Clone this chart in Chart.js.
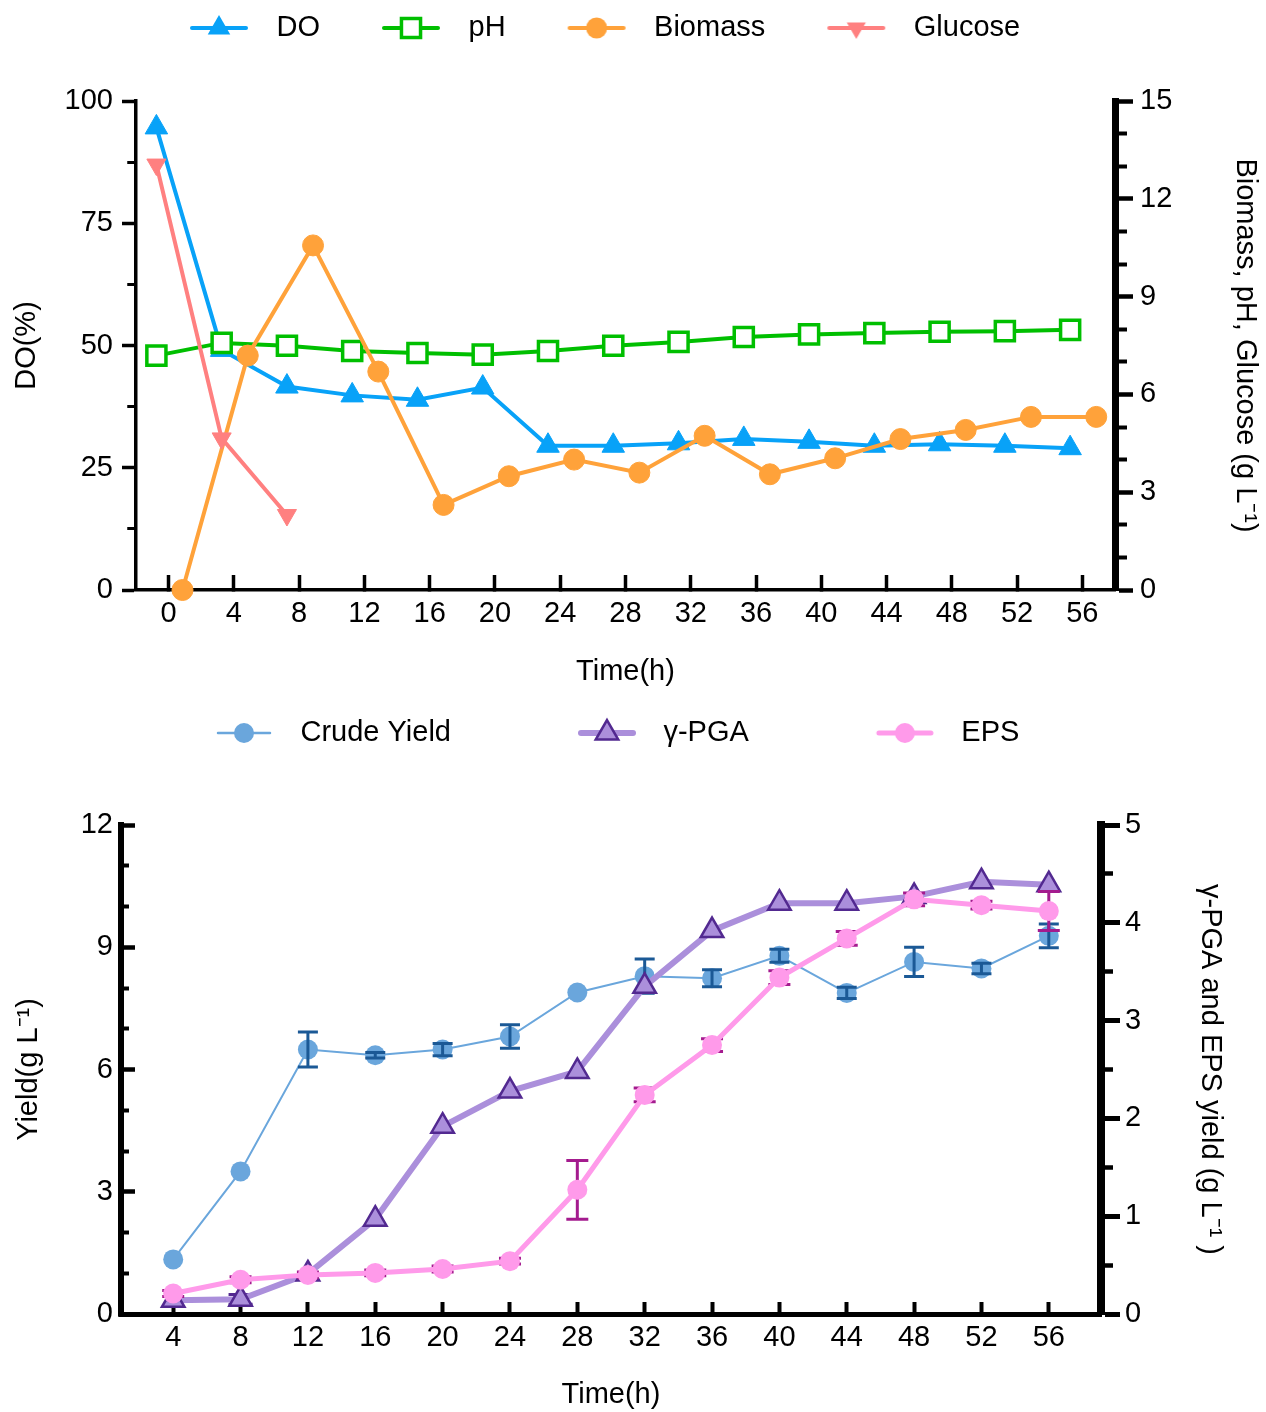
<!DOCTYPE html>
<html>
<head>
<meta charset="utf-8">
<title>Fermentation time course</title>
<script src="https://cdn.jsdelivr.net/npm/chart.js@4.4.1/dist/chart.umd.min.js"></script>
<style>
  html, body { margin: 0; padding: 0; background: #fff; }
  #wrap { position: relative; width: 1266px; height: 1412px; overflow: hidden; }
  canvas { position: absolute; left: 0; }
  #process-chart { top: 0; }
  #yield-chart { top: 700px; }
</style>
</head>
<body>
<div id="wrap">
  <canvas id="process-chart" width="1266" height="700"></canvas>
  <canvas id="yield-chart" width="1266" height="712"></canvas>
</div>
<script>
'use strict';

// ---- top panel: DO, pH, biomass, glucose ----
const topTimeTicks = [0, 4, 8, 12, 16, 20, 24, 28, 32, 36, 40, 44, 48, 52, 56];
const doTicks = [0, 12.5, 25, 37.5, 50, 62.5, 75, 87.5, 100];
const doTickLabels = [0, 25, 50, 75, 100];
const bioTicks = [0, 1, 2, 3, 4, 5, 6, 7, 8, 9, 10, 11, 12, 13, 14, 15];
const bioTickLabels = [0, 3, 6, 9, 12, 15];

const doTime = [-0.75, 3.25, 7.25, 11.25, 15.25, 19.25, 23.25, 27.25, 31.25, 35.25, 39.25, 43.25, 47.25, 51.25, 55.25];
const doValues = [94.6, 49.1, 41.6, 39.8, 38.9, 41.4, 29.5, 29.5, 30.0, 30.9, 30.3, 29.5, 29.8, 29.5, 29.0];
const phTime = [-0.75, 3.25, 7.25, 11.25, 15.25, 19.25, 23.25, 27.25, 31.25, 35.25, 39.25, 43.25, 47.25, 51.25, 55.25];
const phValues = [7.19, 7.58, 7.49, 7.33, 7.27, 7.22, 7.33, 7.49, 7.61, 7.76, 7.84, 7.88, 7.92, 7.94, 7.98];
const biomassTime = [0.85, 4.85, 8.85, 12.85, 16.85, 20.85, 24.85, 28.85, 32.85, 36.85, 40.85, 44.85, 48.85, 52.85, 56.85];
const biomassValues = [0, 7.19, 10.57, 6.70, 2.61, 3.49, 4.00, 3.60, 4.73, 3.55, 4.04, 4.63, 4.91, 5.31, 5.31];
const glucoseTime = [-0.75, 3.25, 7.25];
const glucoseValues = [13.05, 4.65, 2.30];

// ---- bottom panel: crude yield, γ-PGA, EPS ----
const yieldTimeTicks = [4, 8, 12, 16, 20, 24, 28, 32, 36, 40, 44, 48, 52, 56];
const yieldTicks = [0, 1, 2, 3, 4, 5, 6, 7, 8, 9, 10, 11, 12];
const yieldTickLabels = [0, 3, 6, 9, 12];
const pgaTicks = [0, 0.5, 1, 1.5, 2, 2.5, 3, 3.5, 4, 4.5, 5];
const pgaTickLabels = [0, 1, 2, 3, 4, 5];

const sampleTime = [4, 8, 12, 16, 20, 24, 28, 32, 36, 40, 44, 48, 52, 56];
const crudeValues = [1.34, 3.50, 6.49, 6.35, 6.49, 6.81, 7.89, 8.29, 8.24, 8.79, 7.88, 8.64, 8.48, 9.28];
const crudeErrors = [0, 0, 0.43, 0.07, 0.15, 0.29, 0, 0.42, 0.21, 0.16, 0.14, 0.36, 0.13, 0.29];
const pgaValues = [0.14, 0.15, 0.41, 0.97, 1.92, 2.28, 2.48, 3.35, 3.92, 4.20, 4.20, 4.27, 4.42, 4.39];
const pgaErrors = [0, 0.05, 0, 0, 0, 0, 0, 0, 0, 0, 0, 0, 0, 0];
const epsValues = [0.21, 0.35, 0.40, 0.42, 0.46, 0.54, 1.27, 2.24, 2.75, 3.44, 3.84, 4.24, 4.18, 4.12];
const epsErrors = [0.03, 0.03, 0.03, 0.03, 0.03, 0.03, 0.30, 0.07, 0.065, 0.07, 0.07, 0.065, 0.04, 0.20];

const FONT = "'Liberation Sans', Arial, Helvetica, sans-serif";
Chart.defaults.font.family = FONT;
Chart.defaults.font.size = 29;
Chart.defaults.color = '#000';

const C = {
    do: '#08a2f8', ph: '#00bf00', bio: '#ffa23a', glu: '#ff8080',
    crude: '#6aa6dc', crudeErr: '#1b5996',
    pga: '#ab8fdb', pgaEdge: '#522990',
    eps: '#ff9aea', epsErr: '#a41b8e'
};

function points(xs, ys) {
    return xs.map((x, i) => ({x: x, y: ys[i]}));
}

// same shapes as chart.js uses for its points
function drawMarker(g, shape, x, y, r, fill, stroke, bw) {
    g.beginPath();
    if (shape === 'circle') {
        g.arc(x, y, r, 0, Math.PI * 2);
    } else if (shape === 'rect') {
        const s = r * Math.SQRT1_2;
        g.rect(x - s, y - s, 2 * s, 2 * s);
    } else {
        const dir = shape === 'triangle' ? 1 : -1;
        for (let k = 0; k < 3; k++) {
            const a = k * 2 * Math.PI / 3;
            const px = x + Math.sin(a) * r;
            const py = y - dir * Math.cos(a) * r;
            if (k) g.lineTo(px, py); else g.moveTo(px, py);
        }
        g.closePath();
    }
    g.fillStyle = fill;
    g.fill();
    if (bw) {
        g.lineWidth = bw;
        g.strokeStyle = stroke;
        g.stroke();
    }
}

function legendIcon(width, lead, lineLen, lineColor, lineWidth, m) {
    const c = document.createElement('canvas');
    c.width = width;
    c.height = 34;
    const g = c.getContext('2d');
    g.strokeStyle = lineColor;
    g.lineWidth = lineWidth;
    g.lineCap = 'round';
    g.beginPath();
    g.moveTo(lead, 17);
    g.lineTo(lead + lineLen, 17);
    g.stroke();
    drawMarker(g, m.shape, lead + lineLen / 2, 17, m.r, m.fill, m.stroke, m.bw);
    return c;
}

// moves the legend box after layout, so the plot area keeps its place
const legendShift = {
    id: 'legendShift',
    afterLayout(chart, args, opts) {
        const lg = chart.legend;
        if (!lg) return;
        lg.left += opts.dx; lg.right += opts.dx;
        lg.top += opts.dy; lg.bottom += opts.dy;
    }
};

function drawErrors(chart, index, onTop) {
    const ds = chart.data.datasets[index];
    if (!ds.errors || Boolean(ds.errorsOnTop) !== onTop) return;
    const meta = chart.getDatasetMeta(index);
    const yScale = chart.scales[meta.yAxisID];
    const ctx = chart.ctx;
    ctx.save();
    ctx.strokeStyle = ds.errorColor;
    ctx.lineWidth = 3;
    meta.data.forEach((pt, i) => {
        const e = ds.errors[i];
        if (!e) return;
        const v = ds.data[i].y;
        const top = yScale.getPixelForValue(v + e);
        const bot = yScale.getPixelForValue(v - e);
        const cap = ds.errorCap;
        ctx.beginPath();
        ctx.moveTo(pt.x, top); ctx.lineTo(pt.x, bot);
        ctx.moveTo(pt.x - cap, top); ctx.lineTo(pt.x + cap, top);
        ctx.moveTo(pt.x - cap, bot); ctx.lineTo(pt.x + cap, bot);
        ctx.stroke();
    });
    ctx.restore();
}

const errorBars = {
    id: 'errorBars',
    beforeDatasetDraw(chart, args) { drawErrors(chart, args.index, false); },
    afterDatasetDraw(chart, args) { drawErrors(chart, args.index, true); }
};

function axis(o) {
    const major = (c) => !c.tick || o.labels.includes(c.tick.value);
    return {
        type: 'linear',
        position: o.position,
        min: o.min,
        max: o.max,
        afterBuildTicks: (s) => { s.ticks = o.ticks.map((v) => ({value: v})); },
        afterFit: (s) => { if (s.isHorizontal()) s.height = o.size; else s.width = o.size; },
        border: {display: true, color: '#000', width: o.borderWidth},
        grid: {
            drawOnChartArea: false,
            drawTicks: true,
            tickLength: o.tickLength,
            tickColor: '#000',
            tickWidth: (c) => major(c) ? o.tickWidth : o.tickWidth - 0.5,
            tickBorderDash: (c) => major(c) ? [] : [o.minorLength, 300],
            tickBorderDashOffset: (c) => major(c) ? 0 : (o.minorOffset || 0)
        },
        ticks: {
            autoSkip: false,
            maxRotation: 0,
            padding: o.tickPadding,
            color: '#000',
            callback: (v) => o.labels.includes(v) ? String(v) : ''
        },
        title: {display: true, text: o.title, color: '#000', padding: o.titlePadding}
    };
}

function legendOptions(icons, boxWidth) {
    return {
        display: true,
        position: 'top',
        align: 'start',
        labels: {
            usePointStyle: true,
            pointStyleWidth: boxWidth,
            padding: 20,
            font: {size: 29},
            generateLabels: (chart) => chart.data.datasets.map((ds, i) => ({
                text: ds.label,
                pointStyle: icons[i],
                rotation: 0,
                datasetIndex: i,
                hidden: false,
                fontColor: '#000',
                fillStyle: 'transparent',
                strokeStyle: 'transparent',
                lineWidth: 0
            }))
        }
    };
}


function createProcessChart() {
    const W = 114;
    const icons = [
        legendIcon(W, 44, 54, C.do, 4, {shape: 'triangle', r: 13, fill: C.do}),
        legendIcon(W, 44, 54, C.ph, 4, {shape: 'rect', r: 13.5, fill: '#fff', stroke: C.ph, bw: 3.5}),
        legendIcon(W, 44, 54, C.bio, 4, {shape: 'circle', r: 10.5, fill: C.bio}),
        legendIcon(W, 44, 54, C.glu, 4, {shape: 'down', r: 11, fill: C.glu})
    ];

    const line = (label, xs, ys, color, extra) => Object.assign({
        label: label,
        data: points(xs, ys),
        borderColor: color,
        backgroundColor: color,
        pointBackgroundColor: color,
        pointBorderColor: color,
        borderWidth: 4,
        tension: 0,
        clip: false
    }, extra);

    new Chart(document.getElementById('process-chart'), {
        type: 'line',
        data: {
            datasets: [
                line('DO', doTime, doValues, C.do,
                    {yAxisID: 'y', pointStyle: 'triangle', pointRadius: 13, pointBorderWidth: 1, order: 3}),
                line('pH', phTime, phValues, C.ph,
                    {yAxisID: 'y1', pointStyle: 'rect', pointRadius: 13.5, pointBorderWidth: 3.5,
                     pointBackgroundColor: '#fff', order: 2}),
                line('Biomass', biomassTime, biomassValues, C.bio,
                    {yAxisID: 'y1', pointStyle: 'circle', pointRadius: 10.5, pointBorderWidth: 1, order: 1}),
                line('Glucose', glucoseTime, glucoseValues, C.glu,
                    {yAxisID: 'y1', pointStyle: 'triangle', pointRotation: 180, pointRadius: 11,
                     pointBorderWidth: 1, order: 0})
            ]
        },
        options: {
            responsive: false,
            animation: false,
            devicePixelRatio: 1,
            events: [],
            layout: {padding: {top: 42, left: 0, right: 0, bottom: 0}},
            scales: {
                x: axis({position: 'bottom', min: -2, max: 58, ticks: topTimeTicks, labels: topTimeTicks,
                    size: 110, borderWidth: 3.5, tickLength: -15, tickWidth: 3.5, minorLength: 0,
                    tickPadding: 22, title: 'Time(h)', titlePadding: {top: 0, bottom: 11}}),
                y: axis({position: 'left', min: 0, max: 100, ticks: doTicks, labels: doTickLabels,
                    size: 136, borderWidth: 3.5, tickLength: 14, tickWidth: 3.5,
                    minorLength: 7, minorOffset: -5.25,
                    tickPadding: 9, title: 'DO(%)', titlePadding: {top: 10, bottom: 0}}),
                y1: axis({position: 'right', min: 0, max: 15, ticks: bioTicks, labels: bioTickLabels,
                    size: 151, borderWidth: 7, tickLength: 18, tickWidth: 4.5, minorLength: 8,
                    tickPadding: 7, title: 'Biomass, pH, Glucose (g L⁻¹)', titlePadding: {top: 4, bottom: 0}})
            },
            plugins: {
                legend: legendOptions(icons, W),
                tooltip: {enabled: false},
                legendShift: {dx: 128, dy: -48.5}
            }
        },
        plugins: [legendShift]
    });
}


function createYieldChart() {
    const W = 178;
    const icons = [
        legendIcon(W, 110, 52, C.crude, 2.5, {shape: 'circle', r: 10, fill: C.crude}),
        legendIcon(W, 110, 52, C.pga, 6, {shape: 'triangle', r: 13, fill: C.pga, stroke: C.pgaEdge, bw: 2.5}),
        legendIcon(W, 110, 52, C.eps, 5, {shape: 'circle', r: 10, fill: C.eps})
    ];

    new Chart(document.getElementById('yield-chart'), {
        type: 'line',
        data: {
            datasets: [
                {
                    label: 'Crude Yield',
                    data: points(sampleTime, crudeValues),
                    yAxisID: 'y',
                    borderColor: C.crude, backgroundColor: C.crude,
                    pointBackgroundColor: C.crude, pointBorderColor: C.crude,
                    borderWidth: 2, pointStyle: 'circle', pointRadius: 10, pointBorderWidth: 0,
                    tension: 0, clip: false, order: 2,
                    errors: crudeErrors, errorColor: C.crudeErr, errorCap: 10, errorsOnTop: true
                },
                {
                    label: 'γ-PGA',
                    data: points(sampleTime, pgaValues),
                    yAxisID: 'y2',
                    borderColor: C.pga, backgroundColor: C.pga,
                    pointBackgroundColor: C.pga, pointBorderColor: C.pgaEdge,
                    borderWidth: 6, pointStyle: 'triangle', pointRadius: 13, pointBorderWidth: 2.5,
                    tension: 0, clip: false, order: 1,
                    errors: pgaErrors, errorColor: C.pgaEdge, errorCap: 12, errorsOnTop: false
                },
                {
                    label: 'EPS',
                    data: points(sampleTime, epsValues),
                    yAxisID: 'y2',
                    borderColor: C.eps, backgroundColor: C.eps,
                    pointBackgroundColor: C.eps, pointBorderColor: C.eps,
                    borderWidth: 5, pointStyle: 'circle', pointRadius: 10, pointBorderWidth: 0,
                    tension: 0, clip: false, order: 0,
                    errors: epsErrors, errorColor: C.epsErr, errorCap: 11, errorsOnTop: false
                }
            ]
        },
        options: {
            responsive: false,
            animation: false,
            devicePixelRatio: 1,
            events: [],
            layout: {padding: {top: 66, left: 0, right: 0, bottom: 0}},
            scales: {
                x: axis({position: 'bottom', min: 0.9, max: 59.1, ticks: yieldTimeTicks, labels: yieldTimeTicks,
                    size: 98, borderWidth: 5, tickLength: -12, tickWidth: 4, minorLength: 0,
                    tickPadding: 19, title: 'Time(h)', titlePadding: {top: 0, bottom: 0}}),
                y: axis({position: 'left', min: 0, max: 12, ticks: yieldTicks, labels: yieldTickLabels,
                    size: 121, borderWidth: 6, tickLength: -14, tickWidth: 4.5,
                    minorLength: 11, minorOffset: -6,
                    tickPadding: 22, title: 'Yield(g L⁻¹)', titlePadding: {top: 12, bottom: 0}}),
                y2: axis({position: 'right', min: 0, max: 5, ticks: pgaTicks, labels: pgaTickLabels,
                    size: 165, borderWidth: 8, tickLength: 19, tickWidth: 5, minorLength: 8,
                    tickPadding: 5, title: 'γ-PGA and EPS yield (g L⁻¹ )', titlePadding: {top: 39, bottom: 0}})
            },
            plugins: {
                legend: legendOptions(icons, W),
                tooltip: {enabled: false},
                legendShift: {dx: 88, dy: -67.5}
            }
        },
        plugins: [legendShift, errorBars]
    });
}


createProcessChart();
createYieldChart();
</script>
</body>
</html>
